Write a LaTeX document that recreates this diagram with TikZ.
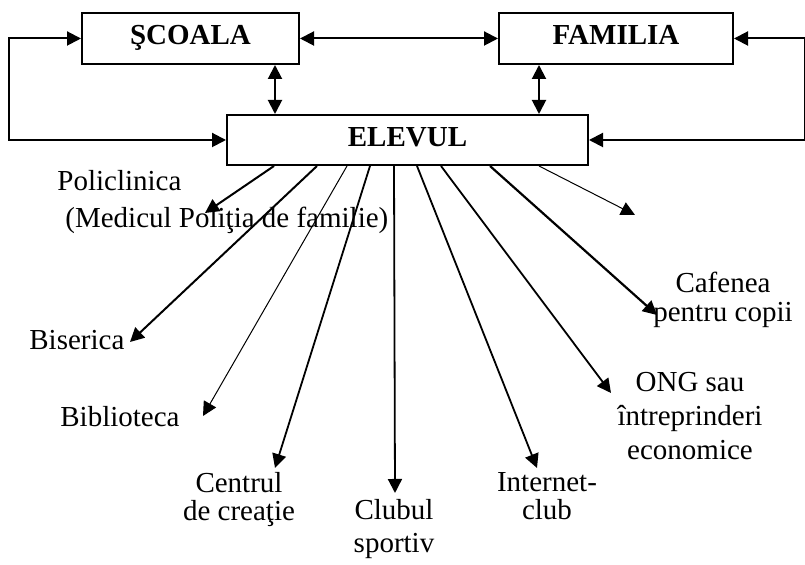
\documentclass[tikz,border=0pt]{standalone}
\usepackage{fontspec}
\setmainfont{Liberation Serif}
\usetikzlibrary{arrows.meta,calc,positioning}

\begin{document}
\begin{tikzpicture} [x=0.5pt, y=-0.5pt,
                font=\fontsize{14.5}{14}\selectfont,
                box/.style = {draw, line width=1pt, font=\fontsize{14.5}{14}\selectfont\bfseries, minimum height=25.5pt, text height=8.5pt, text depth=2.5pt},
                both/.style = {line width=1pt, {Triangle[length=7pt,width=7pt]}-{Triangle[length=7pt,width=7pt]}},
                ray/.style = {line width=0.9pt, -{Triangle[length=7pt,width=7pt]}},
                thin ray/.style = {line width=0.5pt, -{Triangle[length=7pt,width=7pt]}},
                place/.style = {inner sep=0pt, align=center}
            ]
            \useasboundingbox (0,0) rectangle (805,565);
            \node (scoala) at (190.5,38.5) [box, minimum width=108.5pt] {ŞCOALA};
            \node (familia) at (616,38.5) [box, minimum width=117pt] {FAMILIA};
            \node (elevul) at (407.5,140) [box, minimum width=180.5pt, minimum height=25pt, text height=9pt] {ELEVUL};
            % links between the three boxes
            \draw [both] (scoala) -- (familia);
            \draw [both] ([xshift=42.25pt] scoala.south) -- ([xshift=-66.25pt] elevul.north);
            \draw [both] ([xshift=-38.5pt] familia.south) -- ([xshift=65.75pt] elevul.north);
            \draw [both] (scoala.west) -- ++(-72,0) |- (elevul.west);
            \draw [both] (familia.east) -- ++(71,0) |- (elevul.east);
            % labels round ELEVUL (base = last line)
            \node (policlinica) at (57,228) [place, align=left, anchor=base west] {Policlinica\\[4.5pt]\hspace*{4pt}(Medicul Poliţia de familie)};
            \node (biserica) at (29,350) [place, anchor=base west] {Biserica};
            \node (biblioteca) at (60,427) [place, anchor=base west] {Biblioteca};
            \node (centrul) at (239,521) [place, anchor=base] {Centrul\\de creaţie};
            \node (clubul) at (394,553) [place, anchor=base] {Clubul\\[2.5pt]sportiv};
            \node (internet) at (547,520) [place, anchor=base] {Internet-\\club};
            \node (ong) at (690,460) [place, anchor=base] {ONG sau\\[3pt]întreprinderi\\[3pt]economice};
            \node (cafenea) at (723,322) [place, anchor=base] {Cafenea\\[0.5pt]pentru copii};
            % arrow ends
            \coordinate (to policlinica) at (205,213);
            \coordinate (to biserica) at (130,342);
            \coordinate (to biblioteca) at (203,416);
            \coordinate (to centrul) at (275,468);
            \coordinate (to clubul) at (395,493);
            \coordinate (to internet) at (537,468);
            \coordinate (to ong) at (611,393);
            \coordinate (to cafenea) at (657,315);
            \coordinate (to empty) at (635,215);
            \draw [ray, line width=1pt] ([xshift=24pt] elevul.south west) -- (to policlinica);
            \draw [ray, line width=1pt] ([xshift=45.5pt] elevul.south west) -- (to biserica);
            \draw [thin ray] ([xshift=60.5pt] elevul.south west) -- (to biblioteca);
            \draw [ray] ([xshift=72pt] elevul.south west) -- (to centrul);
            \draw [ray] ([xshift=84pt] elevul.south west) -- (to clubul);
            \draw [ray] ([xshift=95.5pt] elevul.south west) -- (to internet);
            \draw [ray] ([xshift=107.5pt] elevul.south west) -- (to ong);
            \draw [ray, line width=1.1pt] ([xshift=132pt] elevul.south west) -- (to cafenea);
            \draw [thin ray] ([xshift=156.5pt] elevul.south west) -- (to empty);
        \end{tikzpicture}
\end{document}
